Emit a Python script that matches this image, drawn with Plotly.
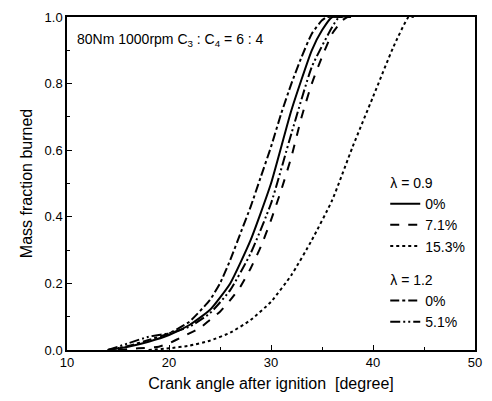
import plotly.graph_objects as go

# lambda = 0.9, 0 %
x_09_0 = [14, 16, 18, 20, 22, 24, 26, 28, 30, 32, 34, 35, 36, 37]
y_09_0 = [0.0, 0.01, 0.025, 0.045, 0.075, 0.12, 0.20, 0.33, 0.50, 0.72, 0.90, 0.96, 1.0, 1.0]
# lambda = 0.9, 7.1 %
x_09_71 = [15, 17, 19, 20, 21, 22, 23, 24, 25, 26, 27, 28, 29, 30, 31, 32, 33, 34, 35, 36, 37, 37.5, 38]
y_09_71 = [0.0, 0.005, 0.01, 0.02, 0.035, 0.05, 0.065, 0.09, 0.115, 0.15, 0.19, 0.245, 0.31, 0.39,
           0.48, 0.58, 0.70, 0.80, 0.88, 0.95, 0.99, 1.0, 1.0]
# lambda = 0.9, 15.3 %
x_09_153 = [18, 20, 22, 24, 26, 28, 30, 32, 34, 36, 38, 40, 42, 43.5, 44]
y_09_153 = [0.0, 0.005, 0.013, 0.028, 0.052, 0.09, 0.145, 0.225, 0.33, 0.45, 0.61, 0.76, 0.91, 1.0, 1.0]
# lambda = 1.2, 0 %
x_12_0 = [14, 16, 18, 20, 22, 24, 25, 26, 27, 28, 29, 30, 31, 32, 33, 34, 35, 35.5, 37]
y_12_0 = [0.0, 0.012, 0.03, 0.05, 0.085, 0.15, 0.20, 0.27, 0.35, 0.43, 0.52, 0.61, 0.71, 0.80,
          0.88, 0.95, 0.99, 1.0, 1.0]
# lambda = 1.2, 5.1 %
x_12_51 = [14, 16, 18, 20, 22, 24, 26, 28, 30, 32, 34, 36, 36.7, 38]
y_12_51 = [0.0, 0.02, 0.04, 0.05, 0.07, 0.11, 0.18, 0.29, 0.44, 0.65, 0.85, 0.97, 1.0, 1.0]

x_ticks = [10, 20, 30, 40, 50]
y_ticks = [0.0, 0.2, 0.4, 0.6, 0.8, 1.0]

FONT = "Liberation Sans, Arial, sans-serif"

series = [
    (x_09_0, y_09_0, "0%", "l09", "λ = 0.9", "solid"),
    (x_09_71, y_09_71, "7.1%", "l09", "λ = 0.9", "dash"),
    (x_09_153, y_09_153, "15.3%", "l09", "λ = 0.9", "dot"),
    (x_12_0, y_12_0, "0%", "l12", "λ = 1.2", "dashdot"),
    (x_12_51, y_12_51, "5.1%", "l12", "λ = 1.2", "10px,3px,2px,3px,2px,3px"),
]

fig = go.Figure()
for xs, ys, name, grp, gtitle, dash in series:
    fig.add_trace(go.Scatter(
        x=xs, y=ys, mode="lines", name=name,
        line=dict(color="black", width=2, dash=dash, shape="spline", smoothing=0.5),
        legendgroup=grp, legendgrouptitle=dict(text=gtitle, font=dict(size=14, color="black")),
    ))

fig.add_annotation(
    x=0.02, y=0.93, xref="paper", yref="paper", xanchor="left", yanchor="middle",
    text="80Nm 1000rpm C<sub>3</sub> : C<sub>4</sub> = 6 : 4", showarrow=False,
    font=dict(size=14, color="black", family=FONT),
)

axis_common = dict(
    showline=True, linecolor="black", linewidth=1.5, mirror=True,
    ticks="inside", ticklen=5, tickwidth=1, tickcolor="black",
    showgrid=False, zeroline=False,
    tickfont=dict(size=13, color="black", family=FONT),
)

fig.update_xaxes(
    range=[10, 50], tickvals=x_ticks,
    minor=dict(ticks="inside", ticklen=3, dtick=5, tickcolor="black"),
    title=dict(text="Crank angle after ignition  [degree]", font=dict(size=16, color="black", family=FONT), standoff=8),
    **axis_common,
)
fig.update_yaxes(
    range=[0, 1.0], tickvals=y_ticks, tickformat=".1f",
    minor=dict(ticks="inside", ticklen=3, dtick=0.1, tickcolor="black"),
    title=dict(text="Mass fraction burned", font=dict(size=16, color="black", family=FONT), standoff=8),
    **axis_common,
)

fig.update_layout(
    width=492, height=401,
    margin=dict(l=67, r=10, t=13, b=51),
    plot_bgcolor="white", paper_bgcolor="white",
    font=dict(family=FONT, color="black"),
    legend=dict(
        x=0.78, y=0.55, xanchor="left", yanchor="top",
        bgcolor="rgba(0,0,0,0)", borderwidth=0,
        font=dict(size=14, color="black", family=FONT),
        traceorder="grouped", tracegroupgap=12, itemwidth=30,
    ),
)

fig.write_html("out.html")
